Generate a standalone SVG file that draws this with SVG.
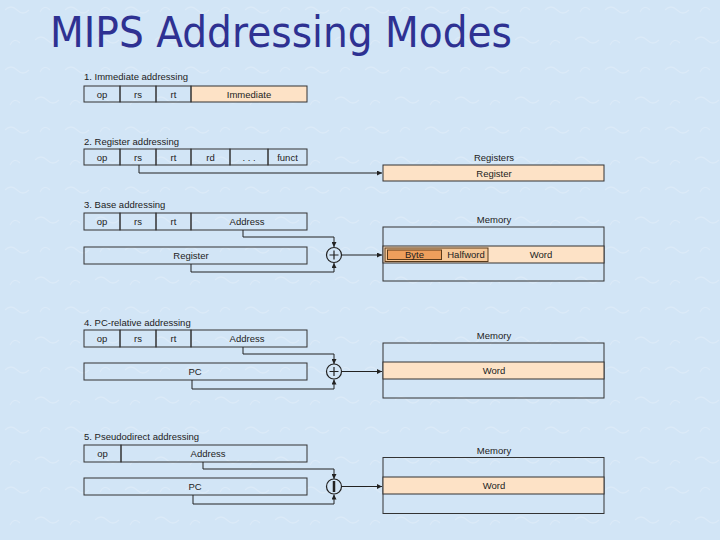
<svg xmlns="http://www.w3.org/2000/svg" width="720" height="540" viewBox="0 0 720 540">
<defs>
<marker id="ah" viewBox="0 0 6 6" refX="6" refY="3" markerWidth="5" markerHeight="5" orient="auto" markerUnits="userSpaceOnUse">
<path d="M0,0 L6,3 L0,6 z" fill="#222"/>
</marker>
<pattern id="tex" width="60" height="60" patternUnits="userSpaceOnUse">
<rect width="60" height="60" fill="#d2e5f6"/>
<path d="M5,10 q6,-6 12,0 t12,0 M35,40 q6,-6 12,0 t12,0 M10,45 q4,-8 10,-2 M40,12 q4,-8 10,-2" fill="none" stroke="#dbeaf8" stroke-width="1.2"/>
</pattern>
</defs>
<style>
.t{font-family:"Liberation Sans",Arial,sans-serif;font-size:9.5px;fill:#222}
.c{font-family:"Liberation Sans",Arial,sans-serif;font-size:9.5px;fill:#222;text-anchor:middle}
.cell{fill:none;stroke:#333;stroke-width:1}
.or{fill:#fde2c6;stroke:#333;stroke-width:1}
.mem{fill:none;stroke:#333;stroke-width:1}
.arr{fill:none;stroke:#222;stroke-width:1;marker-end:url(#ah)}
.sum{fill:none;stroke:#222;stroke-width:1.2}
</style>
<rect width="720" height="540" fill="url(#tex)"/>
<text x="50" y="47" font-family="'DejaVu Sans',Verdana,sans-serif" font-size="42" fill="#2e3192" textLength="462" lengthAdjust="spacingAndGlyphs">MIPS Addressing Modes</text>

<g id="mode1">
<text class="t" x="84" y="80">1. Immediate addressing</text>
<rect class="or" x="191" y="86" width="116" height="16"/>
<rect class="cell" x="84" y="86" width="36" height="16"/>
<rect class="cell" x="120" y="86" width="36" height="16"/>
<rect class="cell" x="156" y="86" width="35" height="16"/>
<text class="c" x="102" y="97.5">op</text>
<text class="c" x="138" y="97.5">rs</text>
<text class="c" x="173.5" y="97.5">rt</text>
<text class="c" x="249" y="97.5">Immediate</text>
</g>

<g id="mode2">
<text class="t" x="84" y="145">2. Register addressing</text>
<rect class="cell" x="84" y="149" width="36" height="16"/>
<rect class="cell" x="120" y="149" width="36" height="16"/>
<rect class="cell" x="156" y="149" width="35" height="16"/>
<rect class="cell" x="191" y="149" width="39" height="16"/>
<rect class="cell" x="230" y="149" width="38" height="16"/>
<rect class="cell" x="268" y="149" width="39" height="16"/>
<text class="c" x="102" y="160.5">op</text>
<text class="c" x="138" y="160.5">rs</text>
<text class="c" x="173.5" y="160.5">rt</text>
<text class="c" x="210.5" y="160.5">rd</text>
<text class="c" x="249" y="160.5">. . .</text>
<text class="c" x="287.5" y="160.5">funct</text>
</g>
<g id="registers">
<text class="c" x="494" y="161">Registers</text>
<rect class="or" x="383" y="165" width="221" height="16"/>
<text class="c" x="494" y="176.5">Register</text>
</g>

<g id="mode3">
<text class="t" x="84" y="208">3. Base addressing</text>
<rect class="cell" x="84" y="213" width="36" height="17"/>
<rect class="cell" x="120" y="213" width="36" height="17"/>
<rect class="cell" x="156" y="213" width="35" height="17"/>
<rect class="cell" x="191" y="213" width="116" height="17"/>
<text class="c" x="102" y="225">op</text>
<text class="c" x="138" y="225">rs</text>
<text class="c" x="173.5" y="225">rt</text>
<text class="c" x="247" y="225">Address</text>
<rect class="cell" x="84" y="247" width="223" height="17"/>
<text class="c" x="191" y="259">Register</text>
</g>
<g id="adder3">
<circle class="sum" cx="334" cy="255" r="7.5"/>
<path class="sum" d="M329.5,255 H338.5 M334,250.5 V259.5"/>
</g>
<g id="memory3">
<text class="c" x="494" y="223">Memory</text>
<rect class="mem" x="383" y="227" width="221" height="54"/>
<rect class="or" x="383" y="246" width="221" height="17"/>
<rect x="385" y="248" width="103" height="13.5" fill="#f6c898" stroke="#5a3a1a" stroke-width="1"/>
<rect x="387.5" y="250" width="54" height="9.5" fill="#ee9f5c" stroke="#5a3a1a" stroke-width="1"/>
<text class="c" x="414.5" y="258">Byte</text>
<text class="c" x="466" y="258">Halfword</text>
<text class="c" x="541" y="258">Word</text>
</g>

<g id="mode4">
<text class="t" x="84" y="326">4. PC-relative addressing</text>
<rect class="cell" x="84" y="330" width="36" height="17"/>
<rect class="cell" x="120" y="330" width="36" height="17"/>
<rect class="cell" x="156" y="330" width="35" height="17"/>
<rect class="cell" x="191" y="330" width="116" height="17"/>
<text class="c" x="102" y="342">op</text>
<text class="c" x="138" y="342">rs</text>
<text class="c" x="173.5" y="342">rt</text>
<text class="c" x="247" y="342">Address</text>
<rect class="cell" x="84" y="363" width="223" height="17"/>
<text class="c" x="195" y="375">PC</text>
</g>
<g id="adder4">
<circle class="sum" cx="334" cy="371.5" r="7.5"/>
<path class="sum" d="M329.5,371.5 H338.5 M334,367 V376"/>
</g>
<g id="memory4">
<text class="c" x="494" y="339">Memory</text>
<rect class="mem" x="383" y="343" width="221" height="55"/>
<rect class="or" x="383" y="362" width="221" height="17"/>
<text class="c" x="494" y="374">Word</text>
</g>

<g id="mode5">
<text class="t" x="84" y="440">5. Pseudodirect addressing</text>
<rect class="cell" x="84" y="445" width="37" height="17"/>
<rect class="cell" x="121" y="445" width="186" height="17"/>
<text class="c" x="102.5" y="457">op</text>
<text class="c" x="208" y="457">Address</text>
<rect class="cell" x="84" y="478" width="223" height="17"/>
<text class="c" x="195" y="490">PC</text>
</g>
<g id="concat5">
<circle class="sum" cx="334" cy="486.5" r="7.5"/>
<path d="M334,481 V492" stroke="#222" stroke-width="2.5"/>
</g>
<g id="memory5">
<text class="c" x="494" y="454">Memory</text>
<rect class="mem" x="383" y="457.5" width="221" height="56"/>
<rect class="or" x="383" y="477" width="221" height="17"/>
<text class="c" x="494" y="489">Word</text>
</g>

<g id="connectors">
<path class="arr" d="M139,165 V173 H382"/>
<path class="arr" d="M243,230 V237 H334 V247"/>
<path class="arr" d="M191,264 V272 H334 V263"/>
<path class="arr" d="M341.5,255 H382"/>
<path class="arr" d="M243,347 V354 H334 V364"/>
<path class="arr" d="M192,380 V389 H334 V379.5"/>
<path class="arr" d="M341.5,371.5 H382"/>
<path class="arr" d="M203,462 V469 H334 V479"/>
<path class="arr" d="M193,495 V504 H334 V494.5"/>
<path class="arr" d="M341.5,486.5 H382"/>
</g>
</svg>
